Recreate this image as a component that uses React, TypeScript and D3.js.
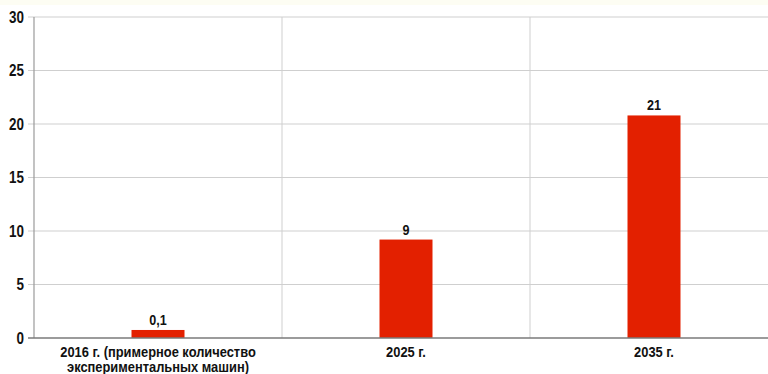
import React from "react";
import * as d3 from "d3";

const categories = ["2016 г. (примерное количество|экспериментальных машин)", "2025 г.", "2035 г."];
const barValues = [0.75, 9.2, 20.8];
const valueLabels = ["0,1", "9", "21"];
const yTicks = [0, 5, 10, 15, 20, 25, 30];

const W = 768, H = 374;
const left = 34, right = 778, top = 17, bottom = 338;
const font = "'Liberation Sans', Arial, sans-serif";

function T({ x, y, size, anchor, children, dy, sx = 0.84 }: any) {
  return (
    <text transform={`translate(${x},${y}) scale(${sx},1)`} dy={dy} textAnchor={anchor} fontFamily={font} fontWeight="bold" fontSize={size} fill="#111">{children}</text>
  );
}

export default function App() {
  const x = d3.scaleBand<string>().domain(categories).range([left, right]);
  const y = d3.scaleLinear().domain([0, 30]).range([bottom, top]);
  const barW = 53;
  return (
    <svg width={W} height={H} style={{ position: "absolute", left: 0, top: 0, background: "#fff" }}>
      <rect x={0} y={0} width={W} height={5} fill="#fdfdf3" />
      {yTicks.filter(t => t > 0).map(t => (
        <line key={t} x1={left - 6} x2={W} y1={y(t)} y2={y(t)} stroke="#cfcfcf" strokeWidth={1} />
      ))}
      {categories.slice(1).map(c => (
        <line key={c} x1={x(c)!} x2={x(c)!} y1={top} y2={bottom} stroke="#cfcfcf" strokeWidth={1} />
      ))}
      <line x1={left} x2={left} y1={top} y2={bottom} stroke="#9a9a9a" strokeWidth={1.2} />
      {yTicks.map(t => (
        <T key={t} x={24} y={y(t)} dy="0.36em" anchor="end" size={16}>{t}</T>
      ))}
      {categories.map((c, i) => {
        const cx = x(c)! + x.bandwidth() / 2;
        return (
          <g key={c}>
            <rect x={cx - barW / 2} y={y(barValues[i])} width={barW} height={bottom - y(barValues[i])} fill="#e32000" />
            <T x={cx} y={y(barValues[i]) - 5} anchor="middle" size={15}>{valueLabels[i]}</T>
            {c.split("|").map((line, j) => (
              <T key={j} x={cx} y={357 + j * 14.5} anchor="middle" size={14} sx={0.92}>{line}</T>
            ))}
          </g>
        );
      })}
      <line x1={left - 6} x2={W} y1={bottom} y2={bottom} stroke="#7a7a7a" strokeWidth={1.5} />
    </svg>
  );
}
